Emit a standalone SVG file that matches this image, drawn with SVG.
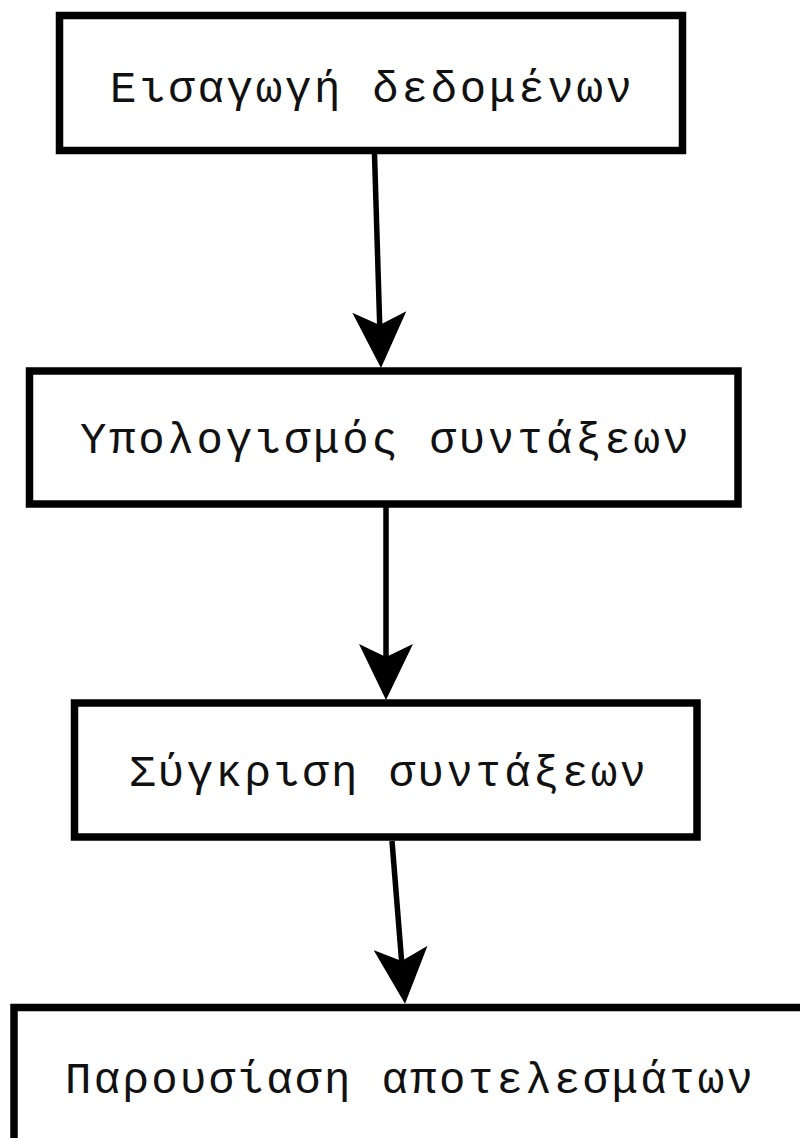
<svg xmlns="http://www.w3.org/2000/svg" width="800" height="1138" viewBox="0 0 800 1138">
  <style>
    .box { fill: #ffffff; stroke: #000000; stroke-width: 7.5; }
    .lbl { font-family: "Liberation Mono", "DejaVu Sans Mono", monospace; font-size: 44px; fill: #111111; }
    .edge { stroke: #000000; stroke-width: 5.5; fill: none; }
  </style>
  <defs>
    <marker id="arrow" markerUnits="userSpaceOnUse" viewBox="0 0 56 54" markerWidth="56" markerHeight="54" refX="13" refY="27" orient="auto">
      <path d="M0,0 L56,27 L0,54 L13,27 Z" fill="#000000"/>
    </marker>
  </defs>
  <rect width="800" height="1138" fill="#ffffff"/>

  <g id="connectors">
    <line class="edge" x1="374.5" y1="154" x2="379.7" y2="325" marker-end="url(#arrow)"/>
    <line class="edge" x1="386" y1="507" x2="386" y2="657" marker-end="url(#arrow)"/>
    <line class="edge" x1="392" y1="841" x2="401.6" y2="961" marker-end="url(#arrow)"/>
  </g>

  <g id="node-input">
    <rect class="box" x="59.5" y="15.5" width="623" height="135"/>
    <text class="lbl" x="110" y="102" textLength="522" lengthAdjust="spacing">Εισαγωγή δεδομένων</text>
  </g>

  <g id="node-compute">
    <rect class="box" x="29.5" y="371" width="708.5" height="133"/>
    <text class="lbl" x="80" y="453" textLength="609" lengthAdjust="spacing">Υπολογισμός συντάξεων</text>
  </g>

  <g id="node-compare">
    <rect class="box" x="74.5" y="703" width="622.5" height="134"/>
    <text class="lbl" x="129" y="786" textLength="517" lengthAdjust="spacing">Σύγκριση συντάξεων</text>
  </g>

  <g id="node-present">
    <rect class="box" x="14" y="1007.5" width="820" height="200"/>
    <text class="lbl" x="65" y="1093" textLength="688" lengthAdjust="spacing">Παρουσίαση αποτελεσμάτων</text>
  </g>
</svg>
